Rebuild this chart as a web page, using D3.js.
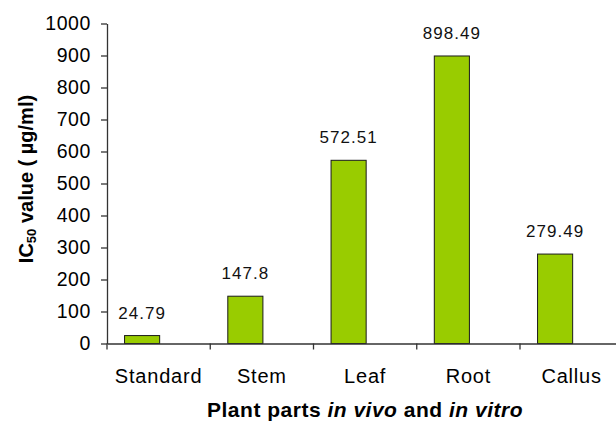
<!DOCTYPE html>
<html><head><meta charset="utf-8">
<script src="https://cdn.jsdelivr.net/npm/d3@7"></script>
<style>body{margin:0;background:#fff}svg{display:block}text{font-family:"Liberation Sans",Arial,sans-serif}</style>
</head><body><svg id="c" width="616" height="421"></svg>
<script>
const categories = ["Standard", "Stem", "Leaf", "Root", "Callus"];
const values = [24.79, 147.8, 572.51, 898.49, 279.49];
const valueLabels = ["24.79", "147.8", "572.51", "898.49", "279.49"];
const yTicks = [0, 100, 200, 300, 400, 500, 600, 700, 800, 900, 1000];

const svg = d3.select("#c");
const x = d3.scaleBand().domain(categories).range([107, 623.25]).padding(0);
const y = d3.scaleLinear().domain([0, 1000]).range([343.5, 23.5]);
const axisColor = "#333";

// bars
const bw = x.bandwidth();
svg.append("g").selectAll("rect").data(values).join("rect")
  .attr("x", (d, i) => x(categories[i]) + bw * 0.17)
  .attr("width", bw * 0.34)
  .attr("y", d => y(d))
  .attr("height", d => y(0) - y(d))
  .attr("fill", "#99cc00").attr("stroke", "#1a1a1a").attr("stroke-width", 1);

// value labels
svg.append("g").selectAll("text").data(values).join("text")
  .attr("x", (d, i) => x(categories[i]) + bw * 0.34)
  .attr("y", d => y(d) - 17)
  .attr("text-anchor", "middle")
  .attr("font-size", 17).attr("letter-spacing", 1).attr("fill", "#111")
  .text((d, i) => valueLabels[i]);

// y axis
const ya = svg.append("g").attr("transform", "translate(107,0)")
  .call(d3.axisLeft(y).tickValues(yTicks).tickFormat(d3.format("d")).tickSize(6).tickSizeOuter(0).tickPadding(10));
ya.select(".domain").attr("stroke", axisColor).attr("stroke-width", 1.3);
ya.selectAll(".tick line").attr("stroke", axisColor).attr("stroke-width", 1.3);
ya.selectAll(".tick text").attr("font-size", 19.5).attr("letter-spacing", 0.6).attr("fill", "#000")
  .attr("font-family", "Liberation Sans, Arial, sans-serif");

// x axis
const xa = svg.append("g").attr("transform", "translate(0,343.5)")
  .call(d3.axisBottom(x).tickSize(0).tickPadding(25));
xa.select(".domain").attr("stroke", axisColor).attr("stroke-width", 1.3);
xa.selectAll(".tick text").attr("font-size", 20).attr("letter-spacing", 0.8).attr("fill", "#000")
  .attr("font-family", "Liberation Sans, Arial, sans-serif");
// category separator ticks
const bounds = categories.map(c => x(c));
xa.append("g").selectAll("line").data(bounds).join("line")
  .attr("x1", d => d).attr("x2", d => d).attr("y1", 0).attr("y2", 6)
  .attr("stroke", axisColor).attr("stroke-width", 1.3);

// y title
const yt = svg.append("text")
  .attr("transform", "translate(33,179) rotate(-90)")
  .attr("text-anchor", "middle").attr("font-size", 20).attr("font-weight", "bold").attr("fill", "#000");
yt.append("tspan").text("IC");
yt.append("tspan").attr("font-size", 13).attr("dy", 3).text("50");
yt.append("tspan").attr("dy", -3).text(" value ( µg/ml)");

// x title
const xt = svg.append("text")
  .attr("x", 365).attr("y", 417)
  .attr("text-anchor", "middle").attr("font-size", 21).attr("font-weight", "bold")
  .attr("letter-spacing", 0.5).attr("fill", "#000");
xt.append("tspan").text("Plant parts ");
xt.append("tspan").attr("font-style", "italic").text("in vivo");
xt.append("tspan").text(" and ");
xt.append("tspan").attr("font-style", "italic").text("in vitro");
</script></body></html>
